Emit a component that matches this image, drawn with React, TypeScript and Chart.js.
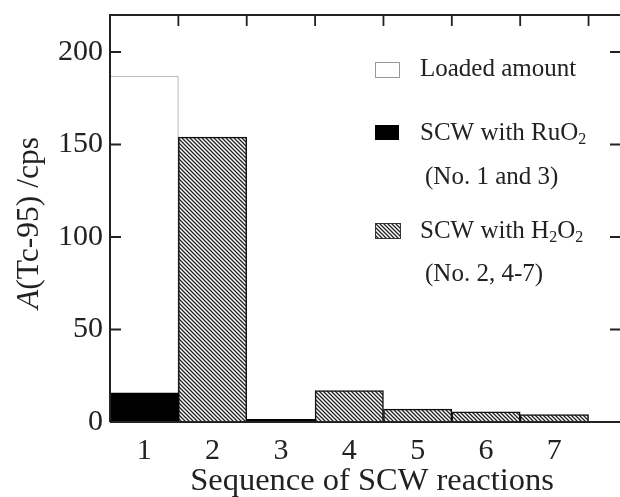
import React, { useEffect, useRef } from "react";
import { Chart, registerables } from "chart.js";

Chart.register(...registerables);

const CATEGORIES = ["1", "2", "3", "4", "5", "6", "7"];
const LOADED: (number | null)[] = [187, null, null, null, null, null, null];
const RUO2: (number | null)[] = [15.7, null, 1.5, null, null, null, null];
const H2O2: (number | null)[] = [null, 154, null, 17, 7, 5.5, 4];
const Y_TICKS = [0, 50, 100, 150, 200];
const Y_MAX = 220;
const X_MIN = 0.5;
const X_MAX = 7.96;

const FONT = "'Liberation Serif', 'Times New Roman', serif";
const TEXT = "#222";

function toXY(arr: (number | null)[]) {
  return arr.map((v, i) => ({ x: i + 1, y: v }));
}

function makeHatch(ctx: CanvasRenderingContext2D) {
  const s = 4;
  const c = document.createElement("canvas");
  c.width = s;
  c.height = s;
  const g = c.getContext("2d")!;
  g.fillStyle = "#fff";
  g.fillRect(0, 0, s, s);
  g.strokeStyle = "#222";
  g.lineWidth = 1.3;
  g.beginPath();
  g.moveTo(-1, -1);
  g.lineTo(s + 1, s + 1);
  g.moveTo(-1, s - 1);
  g.lineTo(1, s + 1);
  g.moveTo(s - 1, -1);
  g.lineTo(s + 1, 1);
  g.stroke();
  return ctx.createPattern(c, "repeat")!;
}

export default function App() {
  const ref = useRef<HTMLCanvasElement | null>(null);

  useEffect(() => {
    document.body.style.margin = "0";
    const canvas = ref.current!;
    const ctx = canvas.getContext("2d")!;
    const hatch = makeHatch(ctx);

    const framePlugin = {
      id: "frame",
      afterDatasetsDraw(chart: any) {
        const { ctx: c, chartArea: a, scales } = chart;
        const ys = scales.y;
        const xs = scales.x;
        c.save();
        c.strokeStyle = "#222";
        c.lineWidth = 2;
        c.beginPath();
        c.moveTo(a.left, a.bottom);
        c.lineTo(a.left, a.top);
        c.lineTo(a.right, a.top);
        c.moveTo(a.left, a.bottom);
        c.lineTo(a.right, a.bottom);
        c.stroke();
        c.lineWidth = 1.8;
        c.beginPath();
        for (const v of Y_TICKS) {
          const py = ys.getPixelForValue(v);
          c.moveTo(a.left, py);
          c.lineTo(a.left + 11, py);
          c.moveTo(a.right, py);
          c.lineTo(a.right - 10, py);
        }
        for (let i = 0; i < CATEGORIES.length; i++) {
          const px = xs.getPixelForValue(i + 1.5);
          c.moveTo(px, a.top);
          c.lineTo(px, a.top + 11);
        }
        c.stroke();

        // y title
        c.fillStyle = TEXT;
        c.translate(30, 223);
        c.rotate(-Math.PI / 2);
        c.textBaseline = "middle";
        const f1 = `italic 31.5px ${FONT}`;
        const f2 = `31.5px ${FONT}`;
        c.font = f1;
        const w1 = c.measureText("A").width;
        c.font = f2;
        const rest = "(Tc-95) /cps";
        const w2 = c.measureText(rest).width;
        const x0 = -(w1 + w2) / 2;
        c.font = f1;
        c.fillText("A", x0, 0);
        c.font = f2;
        c.fillText(rest, x0 + w1, 0);
        c.restore();

        // x title
        c.save();
        c.fillStyle = TEXT;
        c.font = `32.5px ${FONT}`;
        c.textAlign = "center";
        c.textBaseline = "middle";
        c.fillText("Sequence of SCW reactions", 372, 481);
        c.restore();

        // legend
        c.save();
        const drawSub = (parts: [string, boolean][], x: number, y: number) => {
          let cx = x;
          for (const [t, sub] of parts) {
            c.font = sub ? `16px ${FONT}` : `25px ${FONT}`;
            c.fillText(t, cx, sub ? y + 7 : y);
            cx += c.measureText(t).width;
          }
        };
        c.fillStyle = TEXT;
        c.textBaseline = "middle";
        c.fillStyle = "#fff";
        c.fillRect(375, 62, 24, 15);
        c.strokeStyle = "#999";
        c.lineWidth = 1;
        c.strokeRect(375.5, 62.5, 24, 15);
        c.fillStyle = TEXT;
        drawSub([["Loaded amount", false]], 420, 69);
        c.fillStyle = "#000";
        c.fillRect(375, 125, 24, 15);
        c.fillStyle = TEXT;
        drawSub([["SCW with RuO", false], ["2", true]], 420, 133);
        drawSub([["(No. 1 and 3)", false]], 425, 177);
        c.fillStyle = hatch;
        c.fillRect(375, 223, 25, 15);
        c.strokeStyle = "#333";
        c.strokeRect(375.5, 223.5, 25, 15);
        c.fillStyle = TEXT;
        drawSub([["SCW with H", false], ["2", true], ["O", false], ["2", true]], 420, 231);
        drawSub([["(No. 2, 4-7)", false]], 425, 274);
        c.restore();
      },
    };

    const common = {
      grouped: false,
      barPercentage: 1,
      categoryPercentage: 1,
    };

    const chart = new Chart(ctx, {
      type: "bar",
      data: {
        datasets: [
          {
            label: "Loaded amount",
            data: toXY(LOADED) as any,
            backgroundColor: "#fff",
            borderColor: "#aaa",
            borderWidth: 1,
            order: 3,
            ...common,
          },
          {
            label: "SCW with RuO2 (No. 1 and 3)",
            data: toXY(RUO2) as any,
            backgroundColor: "#000",
            borderColor: "#000",
            borderWidth: 0,
            order: 1,
            ...common,
          },
          {
            label: "SCW with H2O2 (No. 2, 4-7)",
            data: toXY(H2O2) as any,
            backgroundColor: hatch as any,
            borderColor: "#111",
            borderWidth: 1.5,
            order: 2,
            ...common,
          },
        ],
      },
      options: {
        responsive: false,
        animation: false,
        layout: { padding: { top: 15, left: 0, right: 0, bottom: 0 } },
        plugins: {
          legend: { display: false },
          tooltip: { enabled: false },
        },
        scales: {
          x: {
            type: "linear",
            offset: false,
            min: X_MIN,
            max: X_MAX,
            grid: { display: false, drawTicks: false, offset: false },
            border: { display: false },
            afterBuildTicks: (s: any) => {
              s.ticks = CATEGORIES.map((_, i) => ({ value: i + 1 }));
            },
            afterFit: (s: any) => {
              s.height = 75;
              s.paddingLeft = 0;
              s.paddingRight = 0;
            },
            ticks: {
              padding: 11,
              color: TEXT,
              font: { family: FONT, size: 30 },
              maxRotation: 0,
              autoSkip: false,
              callback: (v: any) => CATEGORIES[Number(v) - 1] ?? "",
            },
          },
          y: {
            min: 0,
            max: Y_MAX,
            grid: { display: false, drawTicks: false },
            border: { display: false },
            afterBuildTicks: (s: any) => {
              s.ticks = Y_TICKS.map((v) => ({ value: v }));
            },
            afterFit: (s: any) => {
              s.width = 110;
              s.paddingTop = 0;
              s.paddingBottom = 0;
            },
            ticks: {
              padding: 7,
              color: TEXT,
              font: { family: FONT, size: 30 },
            },
          },
        },
      },
      plugins: [framePlugin],
    } as any);

    return () => chart.destroy();
  }, []);

  return (
    <div style={{ position: "absolute", left: 0, top: 0, width: 620, height: 497, background: "#fff" }}>
      <canvas ref={ref} width={620} height={497} />
    </div>
  );
}
